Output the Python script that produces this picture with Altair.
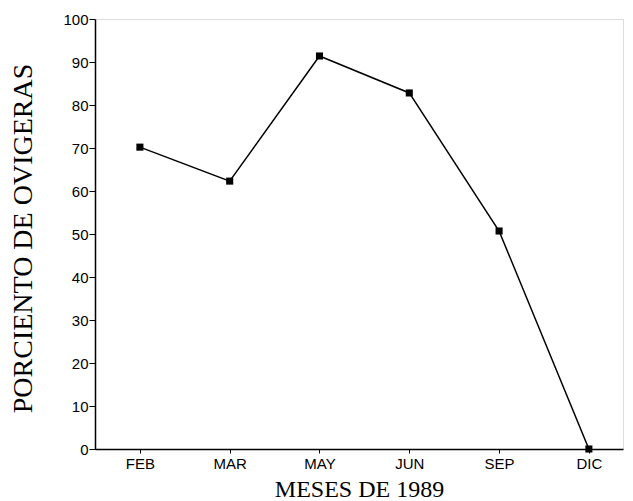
import altair as alt
import pandas as pd

months = ["FEB", "MAR", "MAY", "JUN", "SEP", "DIC"]
values = [70.2, 62.3, 91.4, 82.8, 50.7, 0]

df = pd.DataFrame({"idx": list(range(len(months))), "mes": months, "pct": values})

label_expr = "[" + ",".join(f"'{m}'" for m in months) + "][datum.value]"

x = alt.X(
    "idx:Q",
    scale=alt.Scale(domain=[-0.5, 5.38], nice=False, zero=False),
    axis=alt.Axis(
        values=list(range(len(months))),
        labelExpr=label_expr,
        title="MESES DE 1989",
        titleFont="Liberation Serif",
        titleFontSize=24,
        titleFontWeight="normal",
        titleColor="black",
        titleBaseline="alphabetic",
        titleY=47,
        labelFont="Liberation Sans",
        labelFontSize=15,
        labelColor="black",
        labelPadding=3,
        tickSize=4,
        tickColor="black",
        domainColor="black",
        domainWidth=1.5,
        grid=False,
    ),
)
y = alt.Y(
    "pct:Q",
    scale=alt.Scale(domain=[0, 100], nice=False),
    axis=alt.Axis(
        values=list(range(0, 101, 10)),
        title="PORCIENTO DE OVIGERAS",
        titleFont="Liberation Serif",
        titleFontSize=28,
        titleFontWeight="normal",
        titleColor="black",
        titleBaseline="alphabetic",
        titleX=-64,
        titleY=219,
        labelFont="Liberation Sans",
        labelFontSize=15,
        labelColor="black",
        labelPadding=1,
        tickSize=6,
        tickColor="black",
        domainColor="black",
        domainWidth=1.5,
        grid=False,
    ),
)

line = alt.Chart(df).mark_line(color="black", strokeWidth=1.5).encode(x=x, y=y)
pts = alt.Chart(df).mark_point(shape="square", filled=True, color="black", size=50, opacity=1).encode(x=x, y=y)

chart = (
    alt.layer(line, pts)
    .properties(
        width=528,
        height=430,
        autosize=alt.AutoSizeParams(type="none"),
        padding={"left": 87, "top": 11, "right": 2, "bottom": 52},
    )
    .configure_view(stroke="black", strokeWidth=1.5)
    .configure(background="white")
)

chart.save("out.html", embed_options={"renderer": "svg", "actions": False})
